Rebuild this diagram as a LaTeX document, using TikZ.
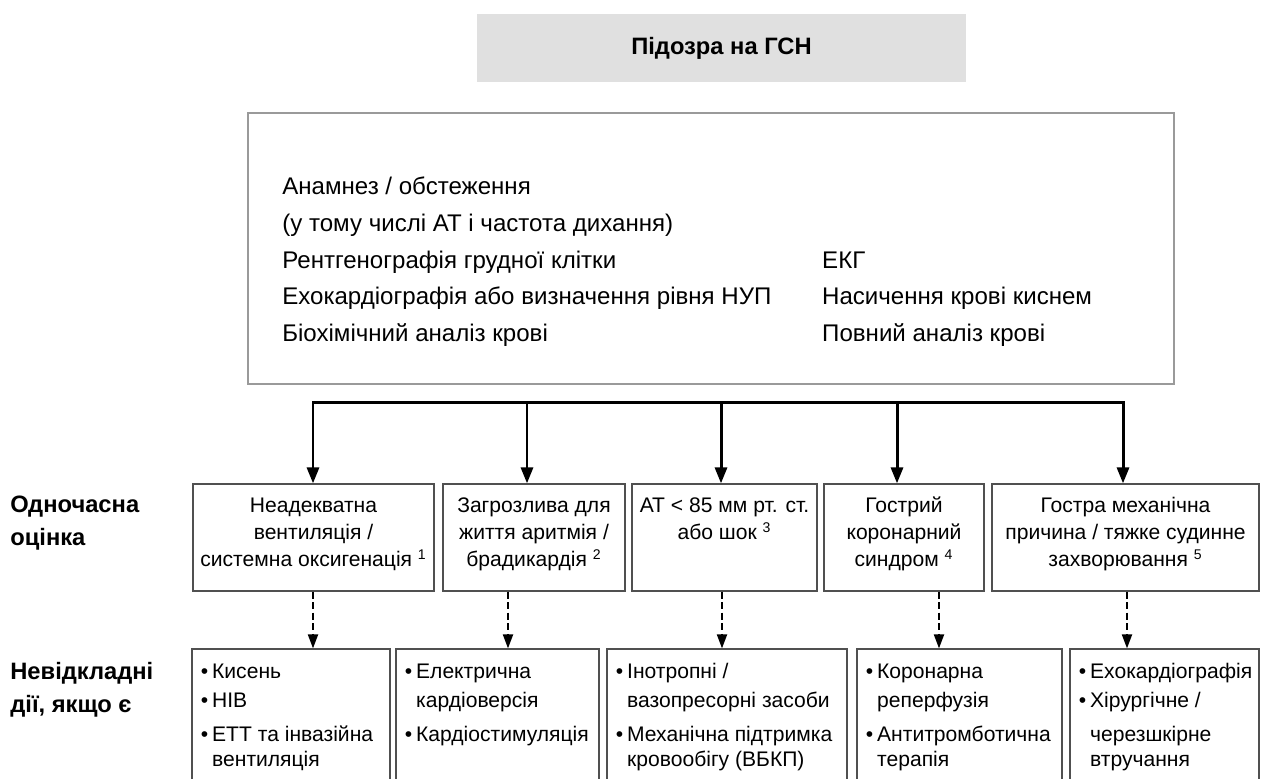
\documentclass[tikz,border=0pt]{standalone}
\usepackage{fontspec}
\setmainfont{Liberation Sans}
\usepackage{tikz}
\usetikzlibrary{arrows.meta,positioning}
\definecolor{headfill}{HTML}{E0E0E0}
\definecolor{framegray}{HTML}{9A9A9A}
\definecolor{boxline}{HTML}{505050}
\tikzset{
  headbox/.style={fill=headfill, minimum width=9.78cm, minimum height=1.36cm,
    inner sep=0pt, font=\bfseries\fontsize{13.5}{16}\selectfont},
  exambox/.style={draw=framegray, line width=1.5pt, inner sep=0pt},
  examtext/.style={anchor=north west, inner sep=0pt,
    font=\fontsize{13.7}{20.8}\selectfont},
  evalbox/.style={draw=boxline, line width=0.7pt, inner sep=0pt,
    minimum height=2.14cm},
  evaltext/.style={anchor=north, align=center, inner sep=0pt,
    font=\fontsize{12}{15.4}\selectfont},
  actbox/.style={draw=boxline, line width=0.7pt, inner sep=0pt,
    minimum height=2.82cm},
  acttext/.style={anchor=north west, align=left, inner sep=0pt,
    font=\fontsize{12}{13.9}\selectfont},
  rowlabel/.style={anchor=north west, align=left, inner sep=0pt,
    font=\bfseries\fontsize{13.5}{18.8}\selectfont},
  bus/.style={line width=1.7pt, line join=miter},
  busarrow/.style={bus, -{Triangle[width=0.24cm,length=0.32cm]}},
  dasharrow/.style={line width=1.1pt, dash pattern=on 4pt off 2pt,
    -{Triangle[width=0.2cm,length=0.28cm]}}
}
\newcommand{\itembul}{\makebox[6.5pt][l]{•}}
\newcommand{\itemind}{\hspace*{6.5pt}}

\begin{document}
\begin{tikzpicture}[x=0.02cm, y=-0.02cm]
    \useasboundingbox (0,0) rectangle (1261,778);

    % suspicion and examination
    \node[headbox] (susp) at (721.5,48) {Підозра на ГСН};
    \node[exambox, minimum width=18.52cm, minimum height=5.42cm] (exam) at (711,248.5) {};
    \node[examtext] (examtxt) at (282,169) {%
      \begin{tabular}{@{}p{10.8cm}@{}l@{}}
        Анамнез / обстеження & \\
        (у тому числі АТ і частота дихання) & \\
        Рентгенографія грудної клітки & ЕКГ \\
        Ехокардіографія або визначення рівня НУП & Насичення крові киснем \\
        Біохімічний аналіз крові & Повний аналіз крові \\
      \end{tabular}};

    % row labels
    \node[rowlabel] (lab1) at (10,496) {Одночасна\\оцінка};
    \node[rowlabel] (lab2) at (10,662) {Невідкладні\\дії, якщо є};

    % simultaneous assessment
    \node[evalbox, minimum width=4.82cm] (e1) at (313.5,537.5) {};
    \node[evalbox, minimum width=3.64cm] (e2) at (534,537.5) {};
    \node[evalbox, minimum width=3.70cm] (e3) at (724.5,537.5) {};
    \node[evalbox, minimum width=3.20cm] (e4) at (904,537.5) {};
    \node[evalbox, minimum width=5.34cm] (e5) at (1125.5,537.5) {};
    \node[evaltext] (e1t) at ([yshift=-0.2cm]e1.north) {\strut Неадекватна\\вентиляція /\\системна оксигенація \textsuperscript{1}};
    \node[evaltext] (e2t) at ([yshift=-0.2cm]e2.north) {\strut Загрозлива для\\життя аритмія /\\брадикардія \textsuperscript{2}};
    \node[evaltext] (e3t) at ([yshift=-0.2cm]e3.north) {\strut АТ < 85 мм рт. ст.\\або шок \textsuperscript{3}};
    \node[evaltext] (e4t) at ([yshift=-0.2cm]e4.north) {\strut Гострий\\коронарний\\синдром \textsuperscript{4}};
    \node[evaltext] (e5t) at ([yshift=-0.2cm]e5.north) {\strut Гостра механічна\\причина / тяжке судинне\\захворювання \textsuperscript{5}};

    % immediate actions
    \node[actbox, minimum width=3.96cm] (a1) at (291,719.5) {};
    \node[actbox, minimum width=4.06cm] (a2) at (497.5,719.5) {};
    \node[actbox, minimum width=4.80cm] (a3) at (727,719.5) {};
    \node[actbox, minimum width=4.10cm] (a4) at (959.5,719.5) {};
    \node[actbox, minimum width=3.78cm] (a5) at (1164.5,719.5) {};
    \node[acttext] (a1t) at ([xshift=0.18cm,yshift=-0.26cm]a1.north west) {\strut\itembul Кисень\\[2.4pt]\itembul НІВ\\[5.6pt]\itembul ЕТТ та інвазійна\\\itemind вентиляція};
    \node[acttext] (a2t) at ([xshift=0.18cm,yshift=-0.26cm]a2.north west) {\strut\itembul Електрична\\[2.4pt]\itemind кардіоверсія\\[5.6pt]\itembul Кардіостимуляція};
    \node[acttext] (a3t) at ([xshift=0.18cm,yshift=-0.26cm]a3.north west) {\strut\itembul Інотропні /\\[2.4pt]\itemind вазопресорні засоби\\[5.6pt]\itembul Механічна підтримка\\\itemind кровообігу (ВБКП)};
    \node[acttext] (a4t) at ([xshift=0.18cm,yshift=-0.26cm]a4.north west) {\strut\itembul Коронарна\\[2.4pt]\itemind реперфузія\\[5.6pt]\itembul Антитромботична\\\itemind терапія};
    \node[acttext] (a5t) at ([xshift=0.18cm,yshift=-0.26cm]a5.north west) {\strut\itembul Ехокардіографія\\[2.4pt]\itembul Хірургічне /\\[5.6pt]\itemind черезшкірне\\\itemind втручання};

    % branching
    \coordinate (b1) at (313,402);
    \coordinate (b2) at (527,402);
    \coordinate (b3) at (721,402);
    \coordinate (b4) at (897,402);
    \coordinate (b5) at (1123,402);
    \draw[bus, {Triangle[width=0.24cm,length=0.32cm]}-{Triangle[width=0.24cm,length=0.32cm]}]
      (b1 |- e1.north) -- (b1) -- (b5) -- (b5 |- e5.north);
    \foreach \i in {2,3,4}
      \draw[busarrow] (b\i) -- (b\i |- e\i.north);

    % dashed links
    \draw[dasharrow] ([xshift=-0.01cm]e1.south) -- ([xshift=-0.01cm]e1.south |- a1.north);
    \draw[dasharrow] ([xshift=-0.52cm]e2.south) -- ([xshift=-0.52cm]e2.south |- a2.north);
    \draw[dasharrow] ([xshift=-0.05cm]e3.south) -- ([xshift=-0.05cm]e3.south |- a3.north);
    \draw[dasharrow] ([xshift=0.7cm]e4.south) -- ([xshift=0.7cm]e4.south |- a4.north);
    \draw[dasharrow] ([xshift=0.03cm]e5.south) -- ([xshift=0.03cm]e5.south |- a5.north);
\end{tikzpicture}
\end{document}
